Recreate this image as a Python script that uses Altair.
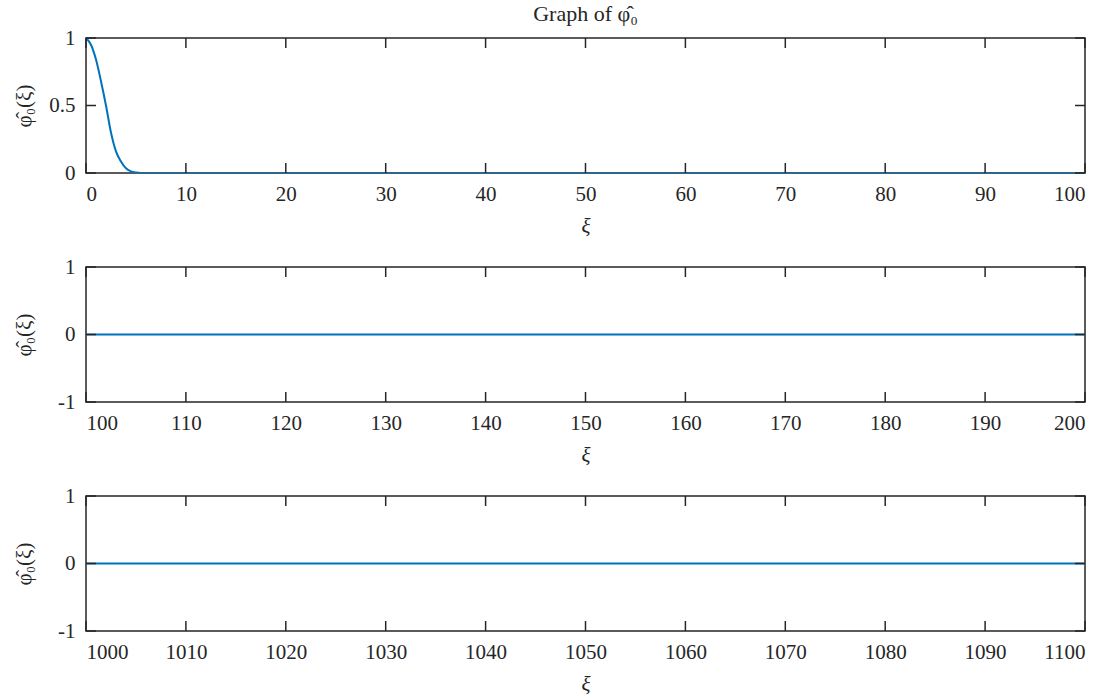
import altair as alt
import pandas as pd

# ---- data ----
xi1 = [0, 0.5, 1, 1.5, 2, 2.5, 3, 3.5, 4, 4.5, 5, 5.5, 6, 100]
phi1 = [1, 0.95, 0.84, 0.68, 0.50, 0.30, 0.16, 0.085, 0.035, 0.012, 0.003, 0.0, 0.0, 0.0]
xi2 = [100, 200]
phi2 = [0, 0]
xi3 = [1000, 1100]
phi3 = [0, 0]

xticks1 = [0, 10, 20, 30, 40, 50, 60, 70, 80, 90, 100]
xticks2 = [100, 110, 120, 130, 140, 150, 160, 170, 180, 190, 200]
xticks3 = [1000, 1010, 1020, 1030, 1040, 1050, 1060, 1070, 1080, 1090, 1100]
yticks1 = [0, 0.5, 1]
yticks23 = [-1, 0, 1]

TITLE = "Graph of φ̂₀"
YLABEL = "φ̂₀(ξ)"
XLABEL = "ξ"

W, H = 999, 135
TL = 10
INK = "#262626"
BLUE = "#0072BD"
FONT = "Liberation Serif"
FS = 21


def panel(xi, phi, xdom, xticks, ydom, yticks, interp, title=None):
    df = pd.DataFrame({"xi": xi, "phi": phi})
    xs = alt.Scale(domain=xdom, nice=False, zero=False)
    ys = alt.Scale(domain=ydom, nice=False, zero=False)
    xax = alt.Axis(values=xticks, labelExpr="toString(datum.value)",
                   labelPadding=10, titlePadding=11, titleFontStyle="italic")
    yax = alt.Axis(values=yticks, labelExpr="toString(datum.value)",
                   labelPadding=11, minExtent=42, maxExtent=42, titlePadding=10)
    line = alt.Chart(df).mark_line(color=BLUE, strokeWidth=2, interpolate=interp, clip=True).encode(
        x=alt.X("xi:Q", scale=xs, title=XLABEL, axis=xax),
        y=alt.Y("phi:Q", scale=ys, title=YLABEL, axis=yax),
    )
    xt = pd.DataFrame({"xi": xticks})
    yt = pd.DataFrame({"phi": yticks})
    rs = dict(color=INK, strokeWidth=1.5)
    bot = alt.Chart(xt).mark_rule(**rs).encode(
        x=alt.X("xi:Q", scale=xs, title=XLABEL, axis=xax), y=alt.value(H), y2=alt.value(H - TL))
    top = alt.Chart(xt).mark_rule(**rs).encode(
        x=alt.X("xi:Q", scale=xs, title=XLABEL, axis=xax), y=alt.value(0), y2=alt.value(TL))
    left = alt.Chart(yt).mark_rule(**rs).encode(
        y=alt.Y("phi:Q", scale=ys, title=YLABEL, axis=yax), x=alt.value(0), x2=alt.value(TL))
    right = alt.Chart(yt).mark_rule(**rs).encode(
        y=alt.Y("phi:Q", scale=ys, title=YLABEL, axis=yax), x=alt.value(W), x2=alt.value(W - TL))
    ch = alt.layer(line, bot, top, left, right).properties(width=W, height=H)
    if title:
        ch = ch.properties(title=alt.TitleParams(title, fontSize=22, font=FONT, fontWeight="normal",
                                                 color=INK, frame="group", anchor="middle", offset=1))
    return ch


p1 = panel(xi1, phi1, [0, 100], xticks1, [0, 1], yticks1, "monotone", TITLE)
p2 = panel(xi2, phi2, [100, 200], xticks2, [-1, 1], yticks23, "linear")
p3 = panel(xi3, phi3, [1000, 1100], xticks3, [-1, 1], yticks23, "linear")

chart = alt.vconcat(p1, p2, p3, spacing=18).properties(
    padding={"left": 12, "top": 2, "right": 20, "bottom": 0},
    background="white",
).configure_view(
    stroke=INK, strokeWidth=1.5
).configure_axis(
    labelFont=FONT, titleFont=FONT, labelFontSize=FS, titleFontSize=FS,
    labelColor=INK, titleColor=INK, titleFontWeight="normal",
    ticks=False, domain=False, grid=False,
)

chart.save("out.html", embed_options={"renderer": "svg", "actions": False})
